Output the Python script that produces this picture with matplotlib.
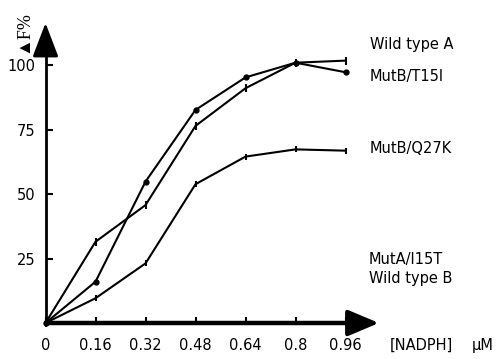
import matplotlib.pyplot as plt

# NADPH concentration (uM) and fluorescence change (dF%)
nadph = [0, 0.16, 0.32, 0.48, 0.64, 0.8, 0.96]
wild_type_a = [0, 31.5, 45.7, 76.4, 91.0, 100.9, 101.7]
mutb_t15i = [0, 16.0, 54.8, 82.6, 95.2, 100.9, 97.2]
mutb_q27k = [0, 9.6, 23.1, 53.8, 64.5, 67.3, 66.8]
muta_i15t = [0, 0, 0, 0, 0, 0, 0]
wild_type_b = [0, 0, 0, 0, 0, 0, 0]

y_ticks = [25, 50, 75, 100]
x_labels = ['0', '0.16', '0.32', '0.48', '0.64', '0.8', '0.96']

plt.rcParams['font.family'] = ['DejaVu Sans']
fs = 10.5

fig = plt.figure(figsize=(4.98, 3.59), dpi=100)
ax = fig.add_axes([0, 0, 1, 1])
ax.set_xlim(-0.1456, 1.448)
ax.set_ylim(-13.95, 125.2)

# flat series lying on the x axis
ax.plot(nadph, muta_i15t, color='black', lw=3, solid_capstyle='butt')
ax.plot(nadph, wild_type_b, color='black', lw=3, solid_capstyle='butt')

ax.plot(nadph, wild_type_a, color='black', lw=1.5, marker='|', ms=6, mew=1.5)
ax.plot(nadph, mutb_t15i, color='black', lw=1.5, marker='o', ms=3.5)
ax.plot(nadph, mutb_q27k, color='black', lw=1.5, marker='|', ms=5, mew=1.5)

# axes with arrow heads
for side in ['top', 'right']:
    ax.spines[side].set_visible(False)
ax.spines['left'].set_position(('data', 0))
ax.spines['bottom'].set_position(('data', 0))
ax.spines['left'].set_bounds(0, 106)
ax.spines['bottom'].set_bounds(0, 0.98)
ax.spines['left'].set_linewidth(2)
ax.spines['bottom'].set_linewidth(3)
ax.annotate('', xy=(0, 116.3), xytext=(0, 104),
            arrowprops=dict(arrowstyle='-|>,head_length=2.1,head_width=0.8',
                            color='black', lw=2, mutation_scale=10,
                            shrinkA=0, shrinkB=0))
ax.annotate('', xy=(1.067, 0), xytext=(0.97, 0),
            arrowprops=dict(arrowstyle='-|>,head_length=1.9,head_width=0.8',
                            color='black', lw=3, mutation_scale=10,
                            shrinkA=0, shrinkB=0))

ax.set_yticks(y_ticks)
ax.set_yticklabels([str(t) for t in y_ticks])
ax.set_xticks(nadph)
ax.set_xticklabels(x_labels)
ax.tick_params(axis='y', direction='in', length=5, width=1.5, pad=7, labelsize=fs)
ax.tick_params(axis='x', direction='in', length=4, width=1.5, pad=11, labelsize=fs)

ax.text(1.100, -8.6, '[NADPH]', fontsize=fs, va='center', ha='left')
ax.text(1.364, -8.6, '\u03bcM', fontsize=fs, va='center', ha='left')
ax.text(-0.072, 112.8, '\u25b2F%', fontsize=13, rotation=90, va='center', ha='center',
        family=['Liberation Serif', 'DejaVu Sans'])

ax.text(1.038, 108.1, 'Wild type A', fontsize=fs, va='center')
ax.text(1.038, 95.7, 'MutB/T15I', fontsize=fs, va='center')
ax.text(1.038, 67.8, 'MutB/Q27K', fontsize=fs, va='center')
ax.text(1.035, 24.8, 'MutA/I15T', fontsize=fs, va='center')
ax.text(1.035, 17.1, 'Wild type B', fontsize=fs, va='center')

fig.savefig('out.png', dpi=100)
